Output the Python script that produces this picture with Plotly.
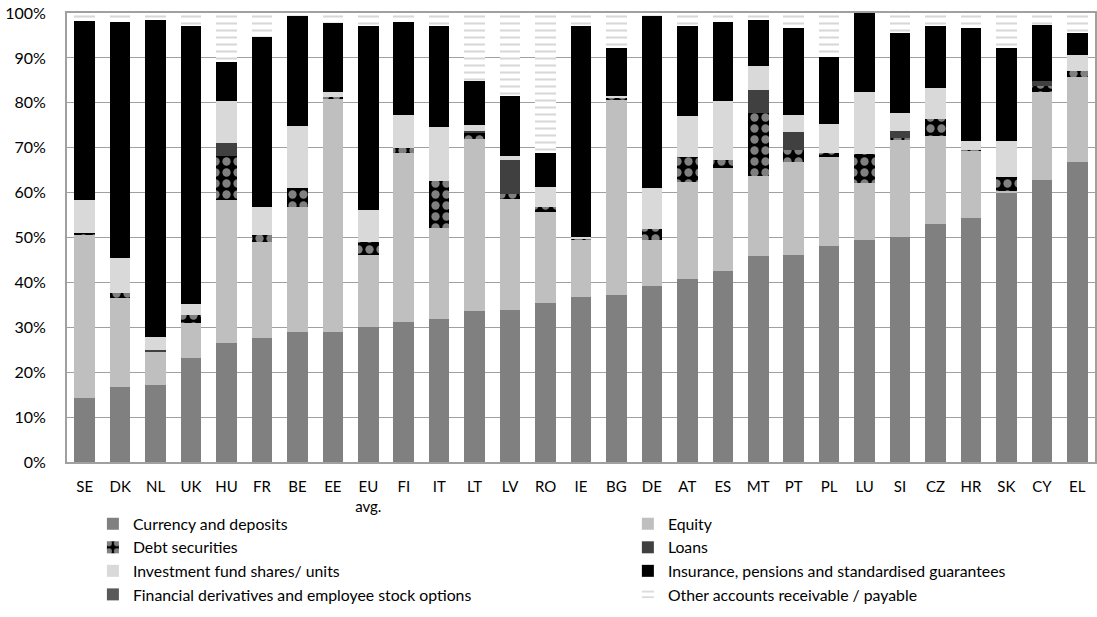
import plotly.graph_objects as go

countries = ['SE', 'DK', 'NL', 'UK', 'HU', 'FR', 'BE', 'EE', 'EU<br>avg.', 'FI', 'IT', 'LT', 'LV', 'RO',
             'IE', 'BG', 'DE', 'AT', 'ES', 'MT', 'PT', 'PL', 'LU', 'SI', 'CZ', 'HR', 'SK', 'CY', 'EL']

currency = [14.2, 16.6, 17.2, 23.1, 26.6, 27.7, 28.9, 29.0, 30.0, 31.1, 31.9, 33.7, 33.9, 35.5,
            36.8, 37.3, 39.2, 40.8, 42.6, 45.9, 46.1, 48.0, 49.5, 50.1, 53.0, 54.3, 59.9, 62.8, 66.8]
equity = [36.4, 19.9, 7.4, 7.8, 31.8, 21.2, 27.9, 52.0, 16.1, 37.7, 20.3, 38.2, 24.7, 20.1,
          12.7, 43.5, 10.3, 21.5, 22.9, 17.9, 20.7, 20.0, 12.7, 21.8, 19.5, 15.1, 0.5, 19.6, 18.9]
debt = [0.4, 1.1, 0.0, 1.9, 9.8, 1.7, 4.3, 0.3, 3.0, 1.2, 10.3, 1.5, 1.1, 1.3,
        0.3, 0.4, 2.4, 5.7, 1.7, 13.9, 2.6, 0.9, 6.4, 0.2, 3.9, 0.2, 3.0, 1.4, 1.3]
loans = [0.0, 0.0, 0.3, 0.0, 2.8, 0.0, 0.0, 0.0, 0.0, 0.0, 0.0, 0.3, 7.6, 0.0,
         0.0, 0.0, 0.0, 0.0, 0.0, 5.2, 4.2, 0.0, 0.0, 1.7, 0.0, 0.0, 0.0, 1.0, 0.0]
funds = [7.4, 7.8, 3.0, 2.3, 9.3, 6.3, 13.8, 1.1, 7.1, 7.3, 12.1, 1.4, 0.9, 4.3,
         0.3, 0.3, 9.2, 9.0, 13.1, 5.2, 3.7, 6.4, 13.7, 4.0, 7.0, 2.0, 8.2, 0.0, 3.7]
insurance = [39.9, 52.6, 70.6, 62.1, 8.7, 37.7, 24.5, 15.4, 41.0, 20.6, 22.6, 9.7, 13.4, 7.6,
             47.1, 10.7, 38.3, 20.2, 17.8, 10.4, 19.3, 15.0, 17.7, 17.7, 13.6, 25.0, 20.6, 12.6, 4.9]
derivatives = [0.0] * 29
other = [1.7, 2.0, 1.5, 2.8, 11.0, 5.4, 0.6, 2.2, 2.8, 2.1, 2.8, 15.2, 18.4, 31.2,
         2.8, 7.8, 0.6, 2.8, 1.9, 1.5, 3.4, 9.7, 0.0, 4.5, 3.0, 3.4, 7.8, 2.6, 4.4]

# name, values, marker, which legend column
series = [
    ('Currency and deposits', currency, dict(color='#808080'), 'legend'),
    ('Equity', equity, dict(color='#bfbfbf'), 'legend2'),
    ('Debt securities', debt, dict(color='#000000',
                                   pattern=dict(shape='.', fgcolor='white', bgcolor='black',
                                                size=11, solidity=0.45, fillmode='overlay')), 'legend'),
    ('Loans', loans, dict(color='#404040'), 'legend2'),
    ('Investment fund shares/ units', funds, dict(color='#d9d9d9'), 'legend'),
    ('Insurance, pensions and standardised guarantees', insurance, dict(color='#000000'), 'legend2'),
    ('Financial derivatives and employee stock options', derivatives, dict(color='#595959'), 'legend'),
    ('Other accounts receivable / payable', other, dict(color='white',
                                                        pattern=dict(shape='-', fgcolor='#b0b0b0', bgcolor='white',
                                                                     size=7, solidity=0.3, fillmode='overlay')), 'legend2'),
]

fig = go.Figure()
for name, vals, marker, leg in series:
    fig.add_trace(go.Bar(x=countries, y=vals, name=name, legend=leg,
                         marker=dict(line=dict(width=0), **marker)))

font = 'Lato, "Open Sans", Arial, sans-serif'
legend_style = dict(orientation='v', yanchor='top', xanchor='left', y=-0.1002,
                    traceorder='normal', font=dict(size=15.8), bgcolor='rgba(0,0,0,0)',
                    itemwidth=30, tracegroupgap=0)
fig.update_layout(
    barmode='stack',
    bargap=0.42,
    width=1097, height=617,
    margin=dict(l=67, r=0, t=13, b=155),
    plot_bgcolor='white',
    paper_bgcolor='white',
    font=dict(family=font, size=15, color='#000000'),
    legend=dict(x=0.0252, **legend_style),
    legend2=dict(x=0.5456, **legend_style),
)
fig.update_xaxes(showline=True, linecolor='#a0a0a0', linewidth=2, mirror=True,
                 ticks='', ticklabelstandoff=10, tickangle=0, tickfont=dict(size=15))
fig.update_yaxes(range=[0, 100], dtick=10, ticksuffix='%', showgrid=True,
                 gridcolor='#a0a0a0', gridwidth=1, showline=True, linecolor='#a0a0a0',
                 linewidth=2, mirror=True, zeroline=False, ticks='', ticklabelstandoff=16,
                 tickfont=dict(size=16), ticklabeloverflow='allow')

# the page body has a default 8px margin; drop it so the chart sits at the window corner
fig.write_html("out.html", config={'displayModeBar': False},
               post_script="document.body.style.margin = '0';")
